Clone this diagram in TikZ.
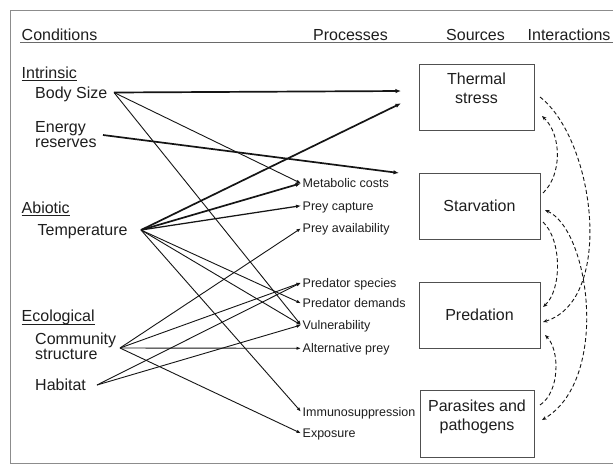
\documentclass[tikz,border=0pt]{standalone}
\usepackage{fontspec}
\setmainfont{Liberation Sans}
\usetikzlibrary{arrows.meta}
\definecolor{txt}{HTML}{1E1E1E}
\definecolor{boxc}{HTML}{505050}
\definecolor{framec}{HTML}{8C8C8C}
\definecolor{hlinec}{HTML}{6A6A6A}
\definecolor{linec}{HTML}{151515}
\begin{document}
\begin{tikzpicture}[x=1pt,y=-1pt,
  every node/.style={inner sep=0pt, text=txt},
  hdr/.style={anchor=base west, font=\fontsize{16}{19}\selectfont},
  cond/.style={font=\fontsize{16}{19}\selectfont, align=left},
  proc/.style={anchor=west, inner sep=1.5pt, font=\fontsize{12.5}{15}\selectfont, text height=9pt, text depth=0pt},
  srcbox/.style={draw=boxc, line width=1pt},
  srctext/.style={font=\fontsize{16}{19}\selectfont, align=center},
  ulin/.style={draw=txt, line width=1.1pt},
  connthin/.style={draw=linec, line width=0.9pt, -{Latex[length=4.5pt,width=3.4pt]}},
  connmid/.style={draw=linec, line width=1.25pt, -{Latex[length=5pt,width=3.8pt]}},
  connthick/.style={draw=linec, line width=1.7pt, -{Latex[length=5.5pt,width=4.4pt]}},
  inter/.style={draw=linec, line width=0.9pt, dash pattern=on 4pt off 2.6pt, -{Stealth[length=4.5pt,width=3.6pt]}},
]
\useasboundingbox (0,0) rectangle (613,464);
\fill[white] (0,0) rectangle (613,464);
% frame and header rule
\draw[framec, line width=0.9pt] (10,10) rectangle (630,463);
\draw[hlinec, line width=1.3pt] (20,42.5) -- (630,42.5);

% headers
\node[hdr] (hcond) at (21.5,40) {Conditions};
\node[hdr] (hproc) at (313,40) {Processes};
\node[hdr] (hsrc) at (446,40) {Sources};
\node[hdr] (hint) at (527.5,40) {Interactions};

% categories
\node[hdr] (intr) at (21.5,78) {Intrinsic};
\draw[ulin] ([yshift=-2.4pt]intr.base west) -- ([yshift=-2.4pt]intr.base east);
\node[hdr] (abio) at (21.5,213) {Abiotic};
\draw[ulin] ([yshift=-2.4pt]abio.base west) -- ([yshift=-2.4pt]abio.base east);
\node[hdr] (ecol) at (21.5,321.7) {Ecological};
\draw[ulin] ([yshift=-2.4pt]ecol.base west) -- ([yshift=-2.4pt]ecol.base east);

% conditions
\node[hdr] (body) at (35,98) {Body Size};
\node[cond, anchor=north west, font=\fontsize{16}{15}\selectfont] (energy) at (35,121.5) {Energy\\reserves};
\node[hdr] (temp) at (37.5,235) {Temperature};
\node[cond, anchor=north west, font=\fontsize{16}{12}\selectfont] (comm) at (35,333) {Community\\structure};
\node[hdr] (hab) at (35,390) {Habitat};

% connector origins
\coordinate (bsO) at (114,92.5);
\coordinate (erO) at (103,135);
\coordinate (tpO) at (141,230);
\coordinate (csO) at (120,348);
\coordinate (hbO) at (97,385);

% processes
\node[proc] (mc) at (301,183.3) {Metabolic costs};
\node[proc] (pc) at (301,205.7) {Prey capture};
\node[proc] (pa) at (301,228.3) {Prey availability};
\node[proc] (ps) at (301,282.7) {Predator species};
\node[proc] (pd) at (301,303.3) {Predator demands};
\node[proc] (vu) at (301,325) {Vulnerability};
\node[proc] (ap) at (301,348.3) {Alternative prey};
\node[proc] (im) at (301,411.7) {Immunosuppression};
\node[proc] (ex) at (301,433.3) {Exposure};

% sources
\node[srcbox, minimum width=115pt, minimum height=66pt] (thermal) at (476.5,97) {};
\node[srctext, anchor=north] (thermalT) at (476.5,72.5) {Thermal\\stress};
\node[srcbox, srctext, minimum width=121pt, minimum height=66pt] (starv) at (479.5,206) {Starvation};
\node[srcbox, srctext, minimum width=121pt, minimum height=66pt] (pred) at (479.5,315) {Predation};
\node[srcbox, minimum width=114pt, minimum height=67pt] (para) at (477,423.5) {};
\node[srctext, anchor=north] (paraT) at (477,400) {Parasites and\\pathogens};

\coordinate (thIn1) at (401,91);
\coordinate (thIn2) at (401,103.3);
\coordinate (stIn) at (399,173);

% direct connectors
\draw[connthick] (bsO) -- (thIn1);
\draw[connthick] (tpO) -- (thIn2);
\draw[connthick] (erO) -- (stIn);
\draw[connthick] (tpO) -- (mc.west);
\draw[connmid] (tpO) -- (pc.west);
\draw[connthin] (bsO) -- (mc.west);
\draw[connthin] (bsO) -- (vu.west);
\draw[connthin] (tpO) -- (pd.west);
\draw[connthin] (tpO) -- (vu.west);
\draw[connthin] (tpO) -- (im.west);
\draw[connthin] (csO) -- (pa.west);
\draw[connthin] (csO) -- (ps.west);
\draw[connthin] (csO) -- (ap.west);
\draw[connthin] (csO) -- (ex.west);
\draw[connthin] (hbO) -- (ps.west);
\draw[connthin] (hbO) -- (vu.west);

% interactions
\coordinate (aS) at (540,97);   \coordinate (aE) at (543,322);
\coordinate (bS) at (543,193);  \coordinate (bE) at (542,116);
\coordinate (cS) at (545,210);  \coordinate (cE) at (542,420);
\coordinate (dS) at (543,222);  \coordinate (dE) at (543,307);
\coordinate (eS) at (540,405);  \coordinate (eE) at (545,335);
\draw[inter] (aS) .. controls (595,140) and (615,300) .. (aE);
\draw[inter] (bS) .. controls (562,175) and (562,135) .. (bE);
\draw[inter, {Stealth[length=4.5pt,width=3.6pt]}-{Stealth[length=4.5pt,width=3.6pt]}] (cS) .. controls (590,230) and (610,380) .. (cE);
\draw[inter] (dS) .. controls (562,240) and (562,290) .. (dE);
\draw[inter] (eS) .. controls (560,392) and (560,350) .. (eE);
\end{tikzpicture}
\end{document}
